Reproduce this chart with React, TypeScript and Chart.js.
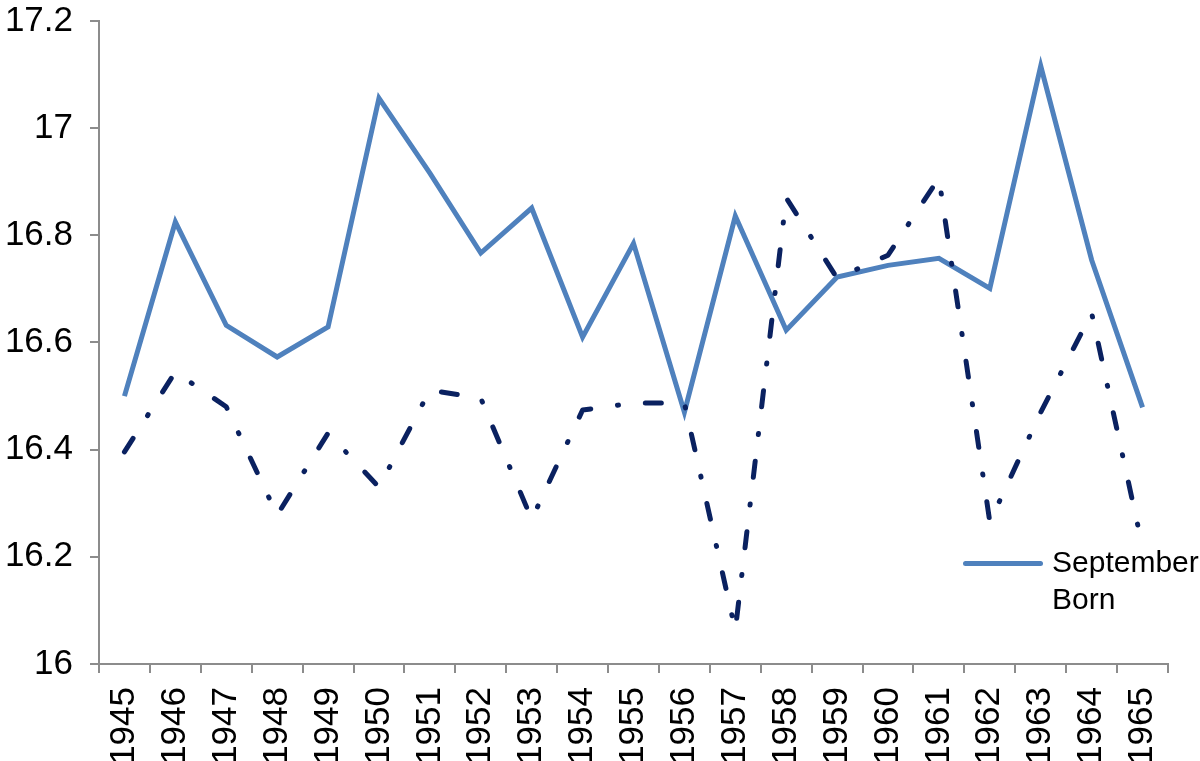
import React, { useEffect, useRef } from "react";
import { Chart, registerables } from "chart.js";

Chart.register(...registerables);

const YEARS = [
  "1945", "1946", "1947", "1948", "1949", "1950", "1951", "1952", "1953", "1954", "1955",
  "1956", "1957", "1958", "1959", "1960", "1961", "1962", "1963", "1964", "1965",
];

const SEPTEMBER_BORN = [
  16.5, 16.825, 16.632, 16.573, 16.629, 17.056, 16.916, 16.767, 16.851, 16.61, 16.785,
  16.47, 16.836, 16.623, 16.722, 16.744, 16.757, 16.701, 17.116, 16.754, 16.479,
];

const OTHER_BORN = [
  16.396, 16.545, 16.48, 16.278, 16.431, 16.33, 16.511, 16.496, 16.27, 16.474, 16.487,
  16.487, 16.063, 16.87, 16.72, 16.763, 16.907, 16.265, 16.47, 16.655, 16.218,
];

const Y_TICKS = [16, 16.2, 16.4, 16.6, 16.8, 17, 17.2];

const BLUE = "#4f81bd";
const NAVY = "#0a2160";
const AXIS = "#8c8c8c";
const FONT = "'Liberation Sans', Arial, Helvetica, sans-serif";

export default function App() {
  const ref = useRef<HTMLCanvasElement | null>(null);

  useEffect(() => {
    document.body.style.margin = "0";
    const canvas = ref.current;
    if (!canvas) return;
    const chart = new Chart(canvas, {
      type: "line",
      data: {
        labels: YEARS,
        datasets: [
          {
            label: "August Born",
            data: OTHER_BORN,
            borderColor: NAVY,
            backgroundColor: NAVY,
            borderWidth: 5,
            borderDash: [16, 27, 1, 27],
            borderCapStyle: "round",
            borderJoinStyle: "round",
            pointRadius: 0,
            tension: 0,
            fill: false,
          },
          {
            label: "September Born",
            data: SEPTEMBER_BORN,
            borderColor: BLUE,
            backgroundColor: BLUE,
            borderWidth: 5,
            borderJoinStyle: "miter",
            pointRadius: 0,
            tension: 0,
            fill: false,
          },
        ],
      },
      options: {
        responsive: false,
        animation: false,
        layout: {
          autoPadding: false,
          padding: { top: 21, right: 32, left: 0, bottom: 0 },
        },
        plugins: {
          legend: { display: false },
          tooltip: { enabled: false },
        },
        scales: {
          x: {
            type: "category",
            offset: true,
            grid: {
              offset: true,
              drawOnChartArea: false,
              drawTicks: true,
              tickLength: 9,
              color: AXIS,
              lineWidth: 2,
            },
            border: { color: AXIS, width: 2 },
            ticks: {
              autoSkip: false,
              maxRotation: 90,
              minRotation: 90,
              padding: 14,
              color: "#000",
              font: { family: FONT, size: 35 },
            },
            afterFit: (scale: any) => {
              scale.height = 97;
              scale.paddingLeft = 0;
              scale.paddingRight = 0;
            },
          },
          y: {
            min: 16,
            max: 17.2,
            grid: {
              drawOnChartArea: false,
              drawTicks: true,
              tickLength: 9,
              color: AXIS,
              lineWidth: 2,
            },
            border: { color: AXIS, width: 2 },
            afterBuildTicks: (axis: any) => {
              axis.ticks = Y_TICKS.map((v) => ({ value: v }));
            },
            ticks: {
              padding: 17,
              color: "#000",
              font: { family: FONT, size: 35 },
              callback: (v: any) => String(Number(Number(v).toFixed(1))),
            },
            afterFit: (scale: any) => {
              scale.width = 99;
              scale.paddingTop = 0;
              scale.paddingBottom = 0;
            },
          },
        },
      },
    });
    return () => chart.destroy();
  }, []);

  return (
    <div style={{ position: "fixed", left: 0, top: 0, width: 1200, height: 761, overflow: "hidden", background: "#fff" }}>
      <canvas ref={ref} width={1200} height={761} style={{ display: "block" }} />
      <div
        style={{
          position: "absolute",
          left: 963,
          top: 561,
          width: 80,
          height: 5,
          borderRadius: 3,
          background: BLUE,
        }}
      />
      <div
        style={{
          position: "absolute",
          left: 1052,
          top: 543,
          fontFamily: FONT,
          fontSize: 30,
          lineHeight: "37px",
          color: "#000",
          whiteSpace: "nowrap",
        }}
      >
        September
        <br />
        Born
      </div>
    </div>
  );
}
